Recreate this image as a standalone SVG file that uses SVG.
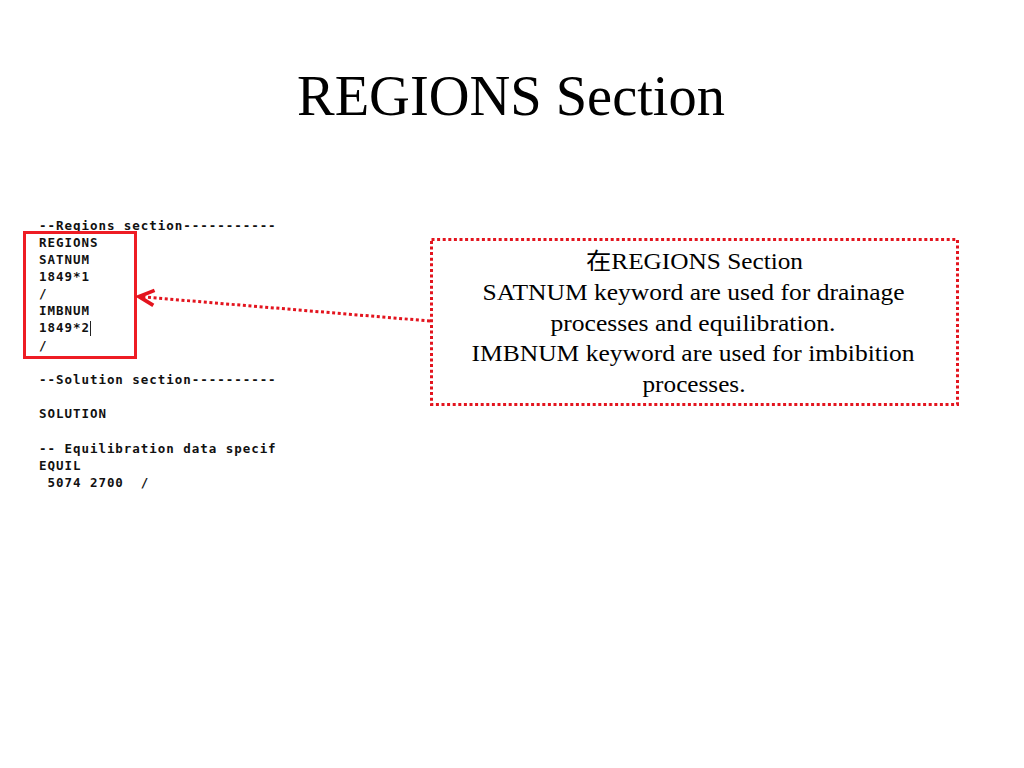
<svg xmlns="http://www.w3.org/2000/svg" width="1024" height="768" viewBox="0 0 1024 768">
<defs>
<style>
.title{font-family:"Liberation Serif","Times New Roman",serif;font-size:56px;fill:#000;}
.call{font-family:"Liberation Serif","Noto Sans CJK SC",serif;font-size:23px;fill:#000;text-anchor:middle;}
.code{font-family:"DejaVu Sans Mono","Liberation Mono",monospace;font-weight:bold;font-size:12.5px;letter-spacing:0.96px;fill:#111;white-space:pre;}
.dot{fill:none;stroke:#e3141e;stroke-width:3;stroke-dasharray:3 2.6;}
</style>
<marker id="vhead" markerUnits="userSpaceOnUse" markerWidth="20" markerHeight="20" refX="0" refY="0" viewBox="-14 -8 16 16" orient="auto">
<path d="M -12,-6 L 0,0 L -12,6" fill="none" stroke="#e3141e" stroke-width="3" stroke-linejoin="miter"/>
</marker>
</defs>
<rect width="1024" height="768" fill="#fff"/>
<text class="title" x="297" y="115" textLength="428" lengthAdjust="spacingAndGlyphs">REGIONS Section</text>

<g id="code-listing">
<text class="code" x="39" y="229.5">--Regions section-----------</text>
<text class="code" x="39" y="246.7">REGIONS</text>
<text class="code" x="39" y="263.8">SATNUM</text>
<text class="code" x="39" y="281">1849*1</text>
<text class="code" x="39" y="298.1">/</text>
<text class="code" x="39" y="315.3">IMBNUM</text>
<text class="code" x="39" y="332.4">1849*2</text>
<text class="code" x="39" y="349.6">/</text>
<text class="code" x="39" y="383.9">--Solution section----------</text>
<text class="code" x="39" y="418.2">SOLUTION</text>
<text class="code" x="39" y="452.5">-- Equilibration data specif</text>
<text class="code" x="39" y="469.6">EQUIL</text>
<text class="code" x="39" y="486.8"> 5074 2700  /</text>
<line x1="90.5" y1="321" x2="90.5" y2="336" stroke="#222" stroke-width="1"/>
</g>

<g id="regions-highlight">
<rect x="24.5" y="232.5" width="111" height="125" fill="none" stroke="#ee1c24" stroke-width="3"/>
</g>

<g id="callout">
<rect class="dot" x="431.5" y="239.5" width="526" height="165"/>
<text class="call" x="694.5" y="269" textLength="217" lengthAdjust="spacingAndGlyphs">在REGIONS Section</text>
<text class="call" x="693.6" y="300" textLength="422" lengthAdjust="spacingAndGlyphs">SATNUM keyword are used for drainage</text>
<text class="call" x="693" y="330.5" textLength="285" lengthAdjust="spacingAndGlyphs">processes and equilibration.</text>
<text class="call" x="693" y="361" textLength="443" lengthAdjust="spacingAndGlyphs">IMBNUM keyword are used for imbibition</text>
<text class="call" x="694" y="391.5" textLength="103" lengthAdjust="spacingAndGlyphs">processes.</text>
</g>

<g id="connectors">
<line class="dot" x1="430" y1="321" x2="139" y2="296.6" marker-end="url(#vhead)"/>
</g>
</svg>
